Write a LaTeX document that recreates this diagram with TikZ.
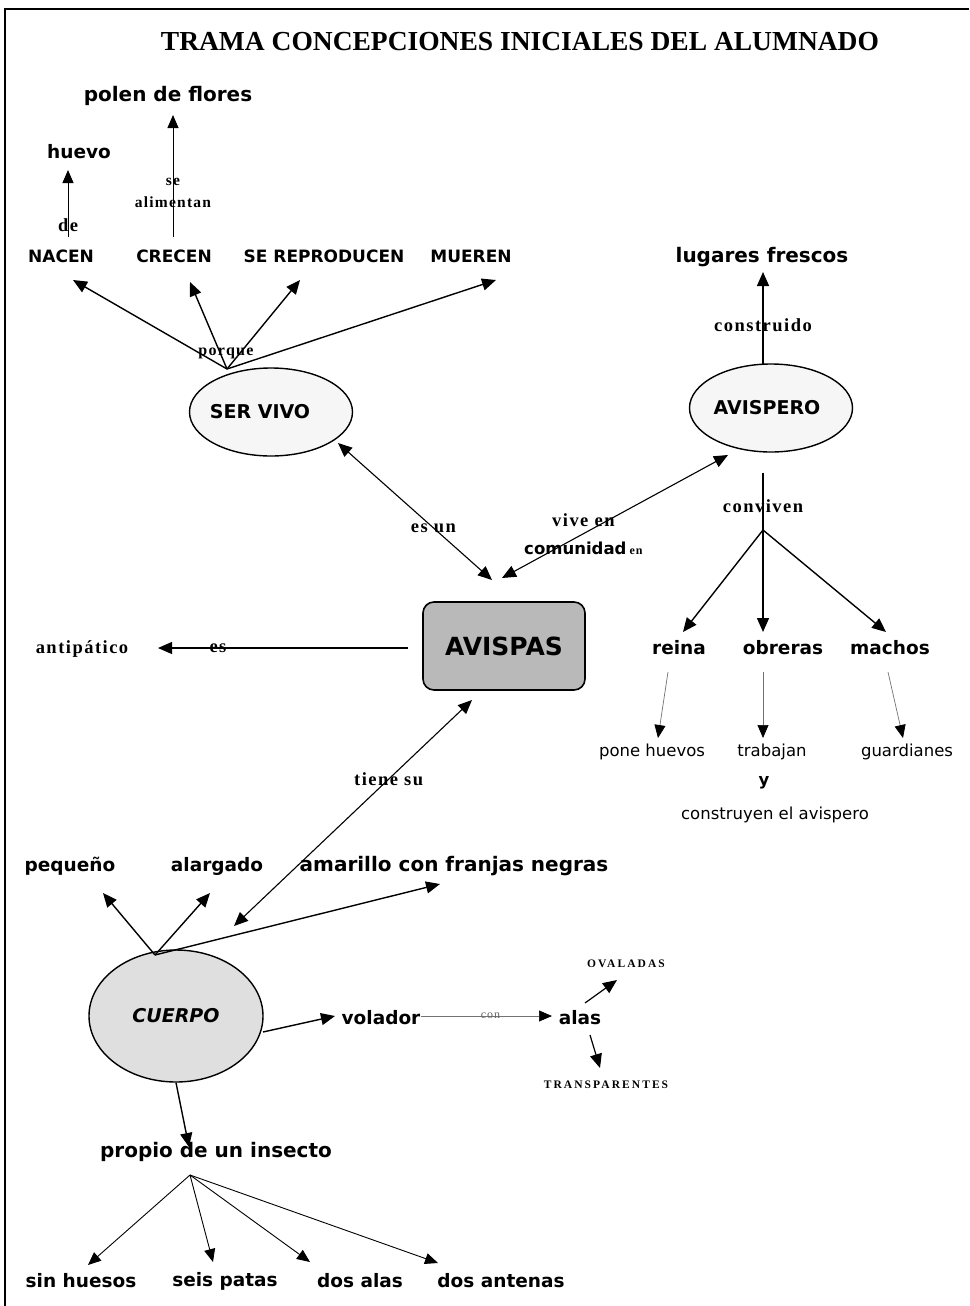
\documentclass[tikz,border=0pt]{standalone}
\usepackage{fontspec}
\usetikzlibrary{shapes.geometric,arrows.meta,calc}
\newfontfamily\comicfont{DejaVu Sans}
\newfontfamily\serifbold{Liberation Serif}
\newfontfamily\labelfont[LetterSpace=8]{Liberation Serif}
\newfontfamily\capsfont[LetterSpace=18]{Liberation Serif}

\tikzset{
  concept/.style={font=\comicfont\bfseries\fontsize{18.5}{21}\selectfont, inner sep=1pt},
  bigconcept/.style={font=\comicfont\bfseries\fontsize{20}{23}\selectfont, inner sep=1pt},
  capsconcept/.style={font=\comicfont\bfseries\fontsize{17}{20}\selectfont, inner sep=1pt},
  minor/.style={font=\comicfont\fontsize{16.5}{19}\selectfont, inner sep=1pt},
  linklabel/.style={font=\labelfont\bfseries\fontsize{18.5}{21}\selectfont, inner sep=0pt, align=center},
  capslabel/.style={font=\capsfont\bfseries\fontsize{11.5}{13}\selectfont, inner sep=0pt},
  bubble/.style={ellipse, draw, line width=1.4pt, minimum width=163pt, minimum height=88pt,
    inner sep=0pt, font=\comicfont\bfseries\fontsize{19}{21}\selectfont},
  arr/.style={-{Triangle[length=14pt,width=12pt]}, line width=1.4pt},
  biarr/.style={{Triangle[length=14pt,width=12pt]}-{Triangle[length=14pt,width=12pt]}, line width=1.1pt},
  thinarr/.style={-{Triangle[length=13pt,width=11pt]}, line width=0.9pt},
  faintarr/.style={-{Triangle[length=13pt,width=11pt,black]}, line width=0.7pt, draw=black!55},
}

\begin{document}
\begin{tikzpicture}[x=1pt,y=-1pt]
\useasboundingbox[fill=white] (0,0) rectangle (969,1306);

% frame
\coordinate (frameBL) at (5,1306);
\coordinate (frameTL) at (5,9);
\coordinate (frameTR) at (969,9);
\draw[line width=1.2pt] (frameBL) -- (frameTL) -- (frameTR);

% title
\node[font=\serifbold\bfseries\fontsize{27.5}{31}\selectfont] (title) at (520,42)
  {TRAMA CONCEPCIONES INICIALES DEL ALUMNADO};

% --- ser vivo branch ---
\node[concept] (huevo) at (79,152) {huevo};
\node[bigconcept] (polen) at (168,96) {polen de flores};
\node[capsconcept] (nacen) at (61,256) {NACEN};
\node[capsconcept] (crecen) at (174,256) {CRECEN};
\node[capsconcept] (serep) at (324,256) {SE REPRODUCEN};
\node[capsconcept] (mueren) at (471,256) {MUEREN};
\node[bubble, fill=gray!7] (servivo) at (271,412) {\hspace*{-22pt}SER VIVO};
\coordinate (hubSV) at (227,369);

\draw[thinarr] ($(nacen)+(7,-19)$) -- node[linklabel, pos=0.18] (lblde) {de} ($(huevo)+(-11,18)$);
\draw[thinarr] ($(crecen)+(-1,-19)$) -- node[linklabel, pos=0.36, font=\labelfont\bfseries\fontsize{15.5}{22}\selectfont] (lblalim) {se\\alimentan} ($(polen)+(5,19)$);
\draw[arr] (hubSV) -- ($(nacen)+(12,24)$);
\draw[arr] (hubSV) -- ($(crecen)+(16,26)$);
\draw[arr] (hubSV) -- ($(serep)+(-24,24)$);
\draw[arr] (hubSV) -- ($(mueren)+(25,24)$);
\node[linklabel, font=\labelfont\bfseries\fontsize{16}{18}\selectfont] (porque) at ($(hubSV)+(-1,-16)$) {porque};

% --- avispero branch ---
\node[bigconcept] (lugares) at (762,257) {lugares frescos};
\node[bubble, fill=gray!7] (avispero) at (771,408) {\hspace*{-8pt}AVISPERO};
\coordinate (hubAV) at (763,530);
\node[concept] (reina) at (679,648) {reina};
\node[concept] (obreras) at (783,648) {obreras};
\node[concept] (machos) at (890,648) {machos};
\node[minor] (ponehuevos) at (652,752) {pone huevos};
\node[minor] (trabajan) at (772,752) {trabajan};
\node[minor] (guardianes) at (907,752) {guardianes};
\node[minor, font=\comicfont\bfseries\fontsize{16.5}{19}\selectfont] (y) at (764,783) {y};
\node[minor] (construyen) at (775,815) {construyen el avispero};

\draw[arr] ($(avispero.north)+(-8,1)$) -- node[linklabel, pos=0.42] (lblconstr) {construido} ($(lugares)+(1,15)$);
\draw[line width=1.1pt] ($(avispero.south)+(-8,20)$) -- node[linklabel, pos=0.58] (lblconv) {conviven} (hubAV);
\draw[arr] (hubAV) -- ($(reina)+(4,-16)$);
\draw[arr] (hubAV) -- ($(obreras)+(-20,-16)$);
\draw[arr] (hubAV) -- ($(machos)+(-4,-16)$);
\draw[faintarr] ($(reina)+(-11,24)$) -- ($(ponehuevos)+(6,-14)$);
\draw[faintarr] ($(obreras)+(-20,24)$) -- ($(trabajan)+(-9,-14)$);
\draw[faintarr] ($(machos)+(-2,24)$) -- ($(guardianes)+(-4,-14)$);

% --- central concept ---
\node[draw, line width=1.6pt, rounded corners=11pt, fill=gray!55, minimum width=162pt,
  minimum height=88pt, font=\comicfont\bfseries\fontsize{25}{28}\selectfont] (avispas) at (504,646) {AVISPAS};
\node[font=\labelfont\bfseries\fontsize{18.5}{21}\selectfont] (antipatico) at (82,649) {antipático};

\draw[biarr] ($(servivo)+(67,31)$) -- node[linklabel, pos=0.62] (lbles) {es un} ($(avispas)+(-12,-66)$);
\draw[biarr] ($(avispas)+(-2,-68)$) -- node[linklabel, pos=0.36, font=\labelfont\bfseries\fontsize{18.5}{28}\selectfont] (lblvive)
  {vive en\\{\comicfont\fontsize{16.5}{28}\selectfont comunidad}\,{\fontsize{12}{28}\selectfont en}} ($(avispero)+(-43,47)$);
\draw[arr, line width=1.1pt] ($(avispas)+(-96,2)$) -- node[linklabel, pos=0.76] (lblcs) {es} ($(antipatico)+(76,-1)$);

% --- cuerpo branch ---
\node[concept] (pequeno) at (70,866) {pequeño};
\node[concept] (alargado) at (217,866) {alargado};
\node[bigconcept] (amarillo) at (454,866) {amarillo con franjas negras};
\node[ellipse, draw, line width=1.4pt, minimum width=174pt, minimum height=132pt, inner sep=0pt,
  fill=gray!25, font=\comicfont\bfseries\itshape\fontsize{19}{21}\selectfont] (cuerpo) at (176,1016) {CUERPO};
\coordinate (hubCU) at (155,955);
\node[concept] (volador) at (381,1018) {volador};
\node[concept] (alas) at (580,1018) {alas};
\node[capslabel] (ovaladas) at (626,964) {OVALADAS};
\node[capslabel] (transparentes) at (606,1085) {TRANSPARENTES};

\draw[biarr] ($(avispas)+(-32,54)$) -- node[linklabel, pos=0.35] (lbltiene) {tiene su} ($(cuerpo)+(58,-90)$);
\draw[arr] (hubCU) -- ($(pequeno)+(33,27)$);
\draw[arr] (hubCU) -- ($(alargado)+(-7,27)$);
\draw[arr] (hubCU) -- ($(amarillo)+(-14,18)$);
\draw[arr] ($(cuerpo)+(87,16)$) -- ($(volador)+(-46,-2)$);
\draw[faintarr] ($(volador)+(40,-2)$) -- node[linklabel, pos=0.53, text=black!60, font=\labelfont\fontsize{12}{14}\selectfont] (lblcon) {con} ($(alas)+(-28,-2)$);
\draw[arr, line width=1.2pt] ($(alas)+(5,-15)$) -- ($(ovaladas)+(-9,16)$);
\draw[arr, line width=1.2pt] ($(alas)+(10,17)$) -- ($(transparentes)+(-6,-17)$);

% --- insect traits ---
\node[bigconcept] (propio) at (216,1152) {propio de un insecto};
\coordinate (hubPR) at (190,1175);
\draw[arr] (cuerpo.south) -- ($(propio)+(-27,-5)$);
\node[concept] (sinhuesos) at (81,1281) {sin huesos};
\node[concept] (seispatas) at (225,1281) {seis patas};
\node[concept] (dosalas) at (360,1281) {dos alas};
\node[concept] (dosantenas) at (501,1281) {dos antenas};
\draw[thinarr] (hubPR) -- ($(sinhuesos)+(7,-16)$);
\draw[thinarr] (hubPR) -- ($(seispatas)+(-12,-19)$);
\draw[thinarr] (hubPR) -- ($(dosalas)+(-50,-19)$);
\draw[thinarr] (hubPR) -- ($(dosantenas)+(-63,-18)$);
\end{tikzpicture}
\end{document}
